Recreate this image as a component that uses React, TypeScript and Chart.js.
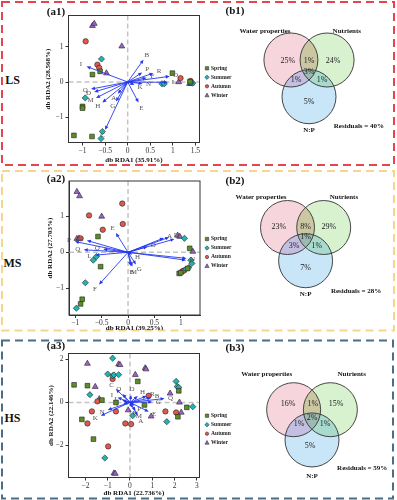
import React, { useEffect, useRef } from 'react';
import { Chart, registerables } from 'chart.js';

Chart.register(...registerables);
Chart.defaults.font.family = "'Liberation Serif', 'Times New Roman', serif";

type P = [number, number];

// ---------------- data ----------------
const seasons = ['Spring', 'Summer', 'Autumn', 'Winter'];

// LS (a1)
const lsSpring: P[] = [[-0.78, 0.21], [-0.61, 0.3], [0.99, 0.25], [-1.0, -0.69], [-1.0, -0.74], [-1.19, -1.51], [-0.79, -1.54], [1.38, 0.01]];
const lsSummer: P[] = [[-0.58, 0.65], [-0.94, -0.45], [0.76, -0.05], [0.81, -0.05], [1.44, -0.03], [-0.56, -1.4], [-0.59, -1.6], [1.4, -0.02]];
const lsAutumn: P[] = [[-0.93, 1.15], [-0.67, 0.49], [-0.63, 0.4], [1.17, 0.11], [1.39, 0.03]];
const lsWinter: P[] = [[-0.78, 1.59], [-0.74, 1.65], [-0.13, 1.01], [-0.47, 0.25], [1.13, 0.0], [1.37, -0.05], [1.41, -0.04]];
const lsArrowNames = ['B', 'P', 'R', 'F', 'O', 'L', 'I', 'Q', 'D', 'M', 'H', 'G', 'A', 'C', 'E', 'K', 'N'];
const lsArrowTips: P[] = [[0.35, 0.63], [0.32, 0.27], [0.57, 0.25], [0.42, 0.12], [0.93, 0.16], [0.89, -0.01], [-0.91, 0.44], [-0.81, -0.2], [-0.74, -0.28], [-0.7, -0.45], [-0.56, -0.58], [-0.26, -0.55], [-0.22, -0.33], [-0.5, -1.35], [0.24, -0.58], [0.15, -0.08], [0.33, -0.05]];
const lsXTicks = [-1, -0.5, 0, 0.5, 1, 1.5];
const lsYTicks = [-1, 0, 1];

// MS (a2)
const msSpring: P[] = [[-0.57, 0.44], [-0.52, -0.4], [-0.87, -1.31], [-0.9, -1.44], [1.17, 0.11], [0.97, -0.59], [1.0, -0.57], [1.13, -0.45]];
const msSummer: P[] = [[-0.66, -0.22], [-0.6, -0.12], [-0.81, -0.85], [-0.98, -1.56], [1.07, 0.39], [1.19, -0.22], [1.21, -0.31], [1.15, -0.43], [1.1, -0.47]];
const msAutumn: P[] = [[-0.11, 1.36], [-0.74, 1.03], [-0.1, 0.79], [-0.48, 0.63], [-0.9, 0.39], [1.03, -0.53], [1.06, -0.51]];
const msWinter: P[] = [[-0.97, 1.69], [-0.92, 1.57], [-0.5, 1.0], [-0.97, 0.38], [-0.93, 0.39], [0.94, 0.47], [0.98, 0.44], [1.23, 0.02]];
const msArrowNames = ['E', 'P', 'R', 'Q', 'O', 'L', 'F', 'B', 'M', 'G', 'H', 'D', 'A', 'I', 'C', 'N', 'K'];
const msArrowTips: P[] = [[-0.23, 0.54], [-1.01, 0.3], [-0.78, 0.33], [-0.84, 0.07], [-0.47, 0.09], [-0.62, -0.08], [-0.55, -0.9], [0.05, -0.38], [0.08, -0.4], [0.15, -0.34], [0.08, -0.06], [0.37, 0.16], [0.68, 0.4], [0.78, 0.42], [0.88, 0.37], [1.11, -0.17], [1.1, -0.22]];
const msXTicks = [-1, -0.5, 0, 0.5, 1];
const msYTicks = [-1, 0, 1];

// HS (a3)
const hsSpring: P[] = [[-2.51, 0.82], [-1.91, 0.78], [0.35, 0.98], [2.19, 0.54], [-1.26, 0.11], [-0.63, 0.0], [0.65, -0.12], [2.55, -0.23], [2.15, -0.67], [-2.16, -0.79], [-1.64, -1.71]];
const hsSummer: P[] = [[-0.78, 2.06], [-1.0, 1.32], [-0.78, 1.24], [-0.72, 1.28], [-0.51, 1.29], [-1.8, 0.36], [2.07, 0.98], [2.12, 0.74], [2.19, 0.7], [2.82, -0.2], [0.12, -0.62], [1.65, -0.9], [-1.13, -2.59]];
const hsAutumn: P[] = [[-0.78, 1.09], [-1.46, 0.05], [-1.71, -0.42], [-1.91, -0.98], [-0.63, -0.42], [-0.21, -0.98], [0.05, -1.01], [0.84, 0.31], [1.59, -0.42], [2.07, -0.47], [-0.98, -2.05]];
const hsWinter: P[] = [[-1.91, 1.81], [-0.51, 1.78], [-0.45, 1.75], [0.24, 1.29], [0.68, 1.6], [0.72, 1.55], [-1.56, 0.73], [-1.38, 0.16], [1.8, 0.42], [2.22, 0.0], [2.3, -0.47], [0.95, -0.65], [-0.08, -0.36], [-0.72, -3.3], [-0.66, -3.32]];
const hsArrowNames = ['C', 'O', 'I', 'D', 'H', 'R', 'B', 'G', 'Q', 'N', 'K', 'E', 'A', 'F', 'M', 'P', 'J', 'L'];
const hsArrowTips: P[] = [[-0.63, 0.62], [-0.33, 0.39], [-0.56, 0.23], [0.05, 0.35], [0.35, 0.3], [0.75, 0.3], [0.95, 0.22], [1.0, 0.02], [1.55, 0.18], [-1.0, -0.35], [-1.31, -0.62], [0.84, -0.43], [0.35, -0.62], [0.1, -0.25], [0.25, -0.4], [0.2, -0.15], [-0.3, -0.05], [-0.35, 0.1]];
const hsXTicks = [-2, -1, 0, 1, 2, 3];
const hsYTicks = [-2, 0, 2];

// Venn partitions: Water, Nutrients, N:P, W∩N, W∩P, N∩P, W∩N∩P (%)
const vennNames = ['Water properties', 'Nutrients', 'N:P'];
const lsVenn = [25, 24, 5, 1, 1, 1, 3];
const msVenn = [23, 29, 7, 8, 3, 1, 1];
const hsVenn = [16, 15, 5, 1, 1, 1, 2];
const residuals = [40, 28, 59];

// ---------------- styles ----------------
const seasonColors = ['#5b8f26', '#22b3b3', '#de5a4c', '#9a63c9'];
const seasonStyles = ['rect', 'rectRot', 'circle', 'triangle'];
const seasonRadii = [3.3, 3.1, 2.7, 3.4];
const ARROW = '#2438ee';
const FONT = "'Liberation Serif', 'Times New Roman', serif";

const fmt = (v: number) => (v < 0 ? '\u2212' + Math.abs(v) : String(v));

function drawMarker(ctx: CanvasRenderingContext2D, style: string, x: number, y: number, r: number) {
  ctx.beginPath();
  if (style === 'rect') ctx.rect(x - r, y - r, 2 * r, 2 * r);
  else if (style === 'rectRot') { ctx.moveTo(x, y - r * 1.3); ctx.lineTo(x + r * 1.3, y); ctx.lineTo(x, y + r * 1.3); ctx.lineTo(x - r * 1.3, y); ctx.closePath(); }
  else if (style === 'circle') ctx.arc(x, y, r, 0, Math.PI * 2);
  else { ctx.moveTo(x, y - r * 1.3); ctx.lineTo(x + r * 1.2, y + r * 0.9); ctx.lineTo(x - r * 1.2, y + r * 0.9); ctx.closePath(); }
  ctx.fill();
  ctx.stroke();
}

type RdaProps = {
  top: number; height: number;
  area: { l: number; r: number; t: number; b: number };
  xRange: [number, number]; yRange: [number, number];
  xTicks: number[]; yTicks: number[];
  xTitle: string; yTitle: string; xTitleY: number; yTitleX: number;
  points: P[][]; arrowNames: string[]; arrowTips: P[];
  legendTop: number;
};

const RDA_LEFT = 30;
const RDA_W = 210;

function RdaChart(props: RdaProps) {
  const ref = useRef<HTMLCanvasElement>(null);
  useEffect(() => {
    const { top, height, area } = props;
    const yAxisW = 26, xAxisH = 22, lh = 7 * 1.2;
    const cl = area.l - RDA_LEFT, cr = area.r - RDA_LEFT, ct = area.t - top, cb = area.b - top;
    const pad = { left: cl - yAxisW, right: RDA_W - cr, top: ct, bottom: height - cb - xAxisH };
    const xTitlePad = cb + xAxisH - (props.xTitleY - top) - lh / 2;
    const yTitlePad = props.yTitleX - RDA_LEFT - (cl - yAxisW) - lh / 2;

    const plugin = {
      id: 'rdaDecor',
      beforeDatasetsDraw(chart: any) {
        const { ctx, chartArea: ca, scales } = chart;
        const x0 = scales.x.getPixelForValue(0), y0 = scales.y.getPixelForValue(0);
        ctx.save();
        ctx.beginPath(); ctx.rect(ca.left, ca.top, ca.right - ca.left, ca.bottom - ca.top); ctx.clip();
        ctx.strokeStyle = '#c4c4c4'; ctx.lineWidth = 1.5; ctx.setLineDash([5, 3]);
        ctx.beginPath(); ctx.moveTo(x0, ca.top); ctx.lineTo(x0, ca.bottom); ctx.stroke();
        ctx.beginPath(); ctx.moveTo(ca.left, y0); ctx.lineTo(ca.right, y0); ctx.stroke();
        ctx.restore();
      },
      afterDatasetsDraw(chart: any) {
        const { ctx, chartArea: ca, scales } = chart;
        const x0 = scales.x.getPixelForValue(0), y0 = scales.y.getPixelForValue(0);
        ctx.save();
        props.arrowTips.forEach(([vx, vy], i) => {
          const px = scales.x.getPixelForValue(vx), py = scales.y.getPixelForValue(vy);
          const dx = px - x0, dy = py - y0, len = Math.hypot(dx, dy) || 1;
          const ux = dx / len, uy = dy / len;
          const hl = 4, hw = 1.8;
          ctx.strokeStyle = ARROW; ctx.fillStyle = ARROW; ctx.lineWidth = 0.9;
          ctx.beginPath(); ctx.moveTo(x0, y0); ctx.lineTo(px - ux * hl * 0.8, py - uy * hl * 0.8); ctx.stroke();
          ctx.beginPath();
          ctx.moveTo(px, py);
          ctx.lineTo(px - ux * hl - uy * hw, py - uy * hl + ux * hw);
          ctx.lineTo(px - ux * hl + uy * hw, py - uy * hl - ux * hw);
          ctx.closePath(); ctx.fill();
          ctx.fillStyle = '#555';
          ctx.font = `7px ${FONT}`;
          ctx.textAlign = 'center'; ctx.textBaseline = 'middle';
          ctx.fillText(props.arrowNames[i], px + ux * 6, py + uy * 6);
        });
        ctx.strokeStyle = '#333'; ctx.lineWidth = 1; ctx.setLineDash([]);
        ctx.strokeRect(ca.left, ca.top, ca.right - ca.left, ca.bottom - ca.top);
        // legend
        seasons.forEach((s, i) => {
          const ly = props.legendTop - top + i * 9;
          ctx.fillStyle = seasonColors[i]; ctx.strokeStyle = '#222'; ctx.lineWidth = 0.5;
          drawMarker(ctx, seasonStyles[i], 207 - RDA_LEFT, ly, 1.7);
          ctx.fillStyle = '#222';
          ctx.font = `bold 5.6px ${FONT}`;
          ctx.textAlign = 'left'; ctx.textBaseline = 'middle';
          ctx.fillText(s, 211 - RDA_LEFT, ly);
        });
        ctx.restore();
      },
    };

    const axisCommon = {
      type: 'linear' as const,
      grid: { drawOnChartArea: false, drawTicks: true, tickLength: 3, color: '#333', lineWidth: 1 },
      border: { display: true, color: '#333', width: 1 },
    };

    const chart = new Chart(ref.current!, {
      type: 'scatter',
      data: {
        datasets: seasons.map((s, i) => ({
          label: s,
          data: props.points[i].map(([x, y]) => ({ x, y })),
          pointStyle: seasonStyles[i] as any,
          pointRadius: seasonRadii[i],
          backgroundColor: seasonColors[i],
          borderColor: '#222',
          borderWidth: 0.6,
        })),
      },
      options: {
        animation: false,
        responsive: false,
        maintainAspectRatio: false,
        events: [],
        layout: { padding: pad },
        plugins: { legend: { display: false }, tooltip: { enabled: false } },
        scales: {
          x: {
            ...axisCommon,
            min: props.xRange[0], max: props.xRange[1],
            afterBuildTicks: (ax: any) => { ax.ticks = props.xTicks.map((v) => ({ value: v })); },
            afterFit: (s: any) => { s.height = xAxisH; },
            ticks: { font: { size: 7.5 }, color: '#333', padding: 1, maxRotation: 0, autoSkip: false, callback: (v: any) => fmt(Number(v)) },
            title: { display: true, text: props.xTitle, color: '#111', font: { size: 7, weight: 'bold' }, padding: { top: 0, bottom: xTitlePad } },
          },
          y: {
            ...axisCommon,
            min: props.yRange[0], max: props.yRange[1],
            afterBuildTicks: (ax: any) => { ax.ticks = props.yTicks.map((v) => ({ value: v })); },
            afterFit: (s: any) => { s.width = yAxisW; },
            ticks: { font: { size: 7.5 }, color: '#333', padding: 2, autoSkip: false, callback: (v: any) => fmt(Number(v)) },
            title: { display: true, text: props.yTitle, color: '#111', font: { size: 7, weight: 'bold' }, padding: { top: yTitlePad, bottom: 0 } },
          },
        },
      } as any,
      plugins: [plugin],
    });
    return () => chart.destroy();
  }, []);
  return (
    <canvas
      ref={ref}
      width={RDA_W}
      height={props.height}
      style={{ position: 'absolute', left: RDA_LEFT, top: props.top, width: RDA_W, height: props.height }}
    />
  );
}

type VennProps = {
  top: number; height: number; ox: number; oy: number; r: number;
  values: number[]; residual: number;
  circles: P[]; regionPos: P[]; namePos: P[]; residPos: P;
};

const VENN_LEFT = 215;
const VENN_W = 180;
const vennFills = ['#f7d5dd', '#d8f1cf', '#c9e5f8'];
const vennPairFills = ['#cbc7a2', '#c4bfe0', '#a8dbce']; // W∩N, W∩P, N∩P
const vennTripleFill = '#9dbab2';

function VennChart(props: VennProps) {
  const ref = useRef<HTMLCanvasElement>(null);
  useEffect(() => {
    const { r, height } = props;
    const ox = props.ox - VENN_LEFT;
    const oy = props.oy - props.top;
    const plugin = {
      id: 'vennDraw',
      afterDraw(chart: any) {
        const { ctx, scales } = chart;
        const sx = scales.x, sy = scales.y;
        const rad = sx.getPixelForValue(1) - sx.getPixelForValue(0);
        const path = (c: P) => { ctx.beginPath(); ctx.arc(sx.getPixelForValue(c[0]), sy.getPixelForValue(c[1]), rad, 0, Math.PI * 2); };
        const [W, N, Pc] = props.circles;
        ctx.save();
        props.circles.forEach((c, i) => { path(c); ctx.fillStyle = vennFills[i]; ctx.fill(); });
        const pairs: [P, P][] = [[W, N], [W, Pc], [N, Pc]];
        pairs.forEach(([a, b], i) => {
          ctx.save(); path(a); ctx.clip(); path(b); ctx.fillStyle = vennPairFills[i]; ctx.fill(); ctx.restore();
        });
        ctx.save(); path(W); ctx.clip(); path(N); ctx.clip(); path(Pc); ctx.fillStyle = vennTripleFill; ctx.fill(); ctx.restore();
        ctx.strokeStyle = '#333'; ctx.lineWidth = 0.9;
        props.circles.forEach((c) => { path(c); ctx.stroke(); });
        ctx.textAlign = 'center'; ctx.textBaseline = 'middle';
        ctx.fillStyle = '#222';
        ctx.font = `8px ${FONT}`;
        props.values.forEach((v, i) => {
          const [x, y] = props.regionPos[i];
          ctx.fillText(v + '%', sx.getPixelForValue(x), sy.getPixelForValue(y));
        });
        ctx.fillStyle = '#111';
        ctx.font = `bold 7px ${FONT}`;
        vennNames.forEach((n, i) => {
          const [x, y] = props.namePos[i];
          ctx.fillText(n, sx.getPixelForValue(x), sy.getPixelForValue(y));
        });
        ctx.fillText('Residuals = ' + props.residual + '%', sx.getPixelForValue(props.residPos[0]), sy.getPixelForValue(props.residPos[1]));
        ctx.restore();
      },
    };
    const chart = new Chart(ref.current!, {
      type: 'scatter',
      data: { datasets: [] },
      options: {
        animation: false,
        responsive: false,
        maintainAspectRatio: false,
        events: [],
        layout: { padding: 0 },
        plugins: { legend: { display: false }, tooltip: { enabled: false } },
        scales: {
          x: { type: 'linear', display: false, min: -ox / r, max: (VENN_W - ox) / r },
          y: { type: 'linear', display: false, min: -(height - oy) / r, max: oy / r },
        },
      } as any,
      plugins: [plugin],
    });
    return () => chart.destroy();
  }, []);
  return (
    <canvas
      ref={ref}
      width={VENN_W}
      height={props.height}
      style={{ position: 'absolute', left: VENN_LEFT, top: props.top, width: VENN_W, height: props.height }}
    />
  );
}

function Label({ x, y, text, size }: { x: number; y: number; text: string; size: number }) {
  return (
    <div
      style={{
        position: 'absolute', left: x, top: y, transform: 'translate(-50%, -50%)',
        fontFamily: FONT, fontWeight: 'bold', fontSize: size, lineHeight: 1, whiteSpace: 'nowrap', color: '#111',
      }}
    >
      {text}
    </div>
  );
}

export default function App() {
  return (
    <div style={{ position: 'absolute', left: 0, top: 0, width: 397, height: 500, background: '#fff', overflow: 'hidden' }}>
      <svg width={397} height={500} style={{ position: 'absolute', left: 0, top: 0 }}>
        <rect x={2} y={2} width={392} height={163} fill="none" stroke="#e4464e" strokeWidth={2} strokeDasharray="8 5" />
        <rect x={2} y={171} width={392} height={159.5} fill="none" stroke="#f5d68c" strokeWidth={2} strokeDasharray="8 5" />
        <rect x={2} y={340.5} width={391} height={158} fill="none" stroke="#4b6e88" strokeWidth={2} strokeDasharray="8 5" />
      </svg>

      <RdaChart
        top={0} height={165}
        area={{ l: 68.5, r: 199.5, t: 15.5, b: 142.5 }}
        xRange={[-1.31, 1.59]} yRange={[-1.71, 1.88]}
        xTicks={lsXTicks} yTicks={lsYTicks}
        xTitle="db RDA1 (35.91%)" yTitle="db RDA2 (28.568%)" xTitleY={160} yTitleX={48}
        points={[lsSpring, lsSummer, lsAutumn, lsWinter]}
        arrowNames={lsArrowNames} arrowTips={lsArrowTips}
        legendTop={68.3}
      />
      <RdaChart
        top={165} height={165}
        area={{ l: 69, r: 200, t: 181, b: 315 }}
        xRange={[-1.12, 1.365]} yRange={[-1.75, 1.99]}
        xTicks={msXTicks} yTicks={msYTicks}
        xTitle="db RDA1 (39.25%)" yTitle="db RDA2 (27.703%)" xTitleY={328} yTitleX={50}
        points={[msSpring, msSummer, msAutumn, msWinter]}
        arrowNames={msArrowNames} arrowTips={msArrowTips}
        legendTop={239}
      />
      <RdaChart
        top={330} height={170}
        area={{ l: 68.5, r: 199.5, t: 353.5, b: 477.5 }}
        xRange={[-2.76, 3.12]} yRange={[-3.5, 2.28]}
        xTicks={hsXTicks} yTicks={hsYTicks}
        xTitle="db RDA1 (22.736%)" yTitle="db RDA2 (22.146%)" xTitleY={493.5} yTitleX={51.5}
        points={[hsSpring, hsSummer, hsAutumn, hsWinter]}
        arrowNames={hsArrowNames} arrowTips={hsArrowTips}
        legendTop={415.7}
      />

      <VennChart
        top={0} height={165} ox={309} oy={60} r={27}
        values={lsVenn} residual={residuals[0]}
        circles={[[-0.67, 0], [0.67, 0], [0, -1.36]]}
        regionPos={[[-0.78, -0.04], [0.89, -0.04], [0, -1.56], [0, -0.04], [-0.48, -0.74], [0.48, -0.74], [0, -0.44]]}
        namePos={[[-1.63, 1.05], [1.4, 1.05], [0, -2.59]]}
        residPos={[1.85, -2.44]}
      />
      <VennChart
        top={165} height={165} ox={305.6} oy={227.5} r={27}
        values={msVenn} residual={residuals[1]}
        circles={[[-0.67, 0], [0.67, 0], [0, -1.23]]}
        regionPos={[[-0.99, 0.03], [0.86, 0.03], [0, -1.49], [0, 0.03], [-0.43, -0.69], [0.42, -0.69], [0, -0.34]]}
        namePos={[[-1.65, 1.13], [1.42, 1.13], [0, -2.46]]}
        residPos={[1.87, -2.37]}
      />
      <VennChart
        top={330} height={170} ox={312} oy={409.7} r={27}
        values={hsVenn} residual={residuals[2]}
        circles={[[-0.68, 0], [0.68, 0], [0, -1.12]]}
        regionPos={[[-0.89, 0.21], [0.89, 0.21], [-0.07, -1.34], [0.03, 0.21], [-0.48, -0.54], [0.48, -0.54], [0, -0.32]]}
        namePos={[[-1.68, 1.31], [1.47, 1.31], [0, -2.46]]}
        residPos={[1.86, -2.17]}
      />

      <Label x={12.5} y={80} text="LS" size={12} />
      <Label x={12.5} y={263} text="MS" size={12} />
      <Label x={12.5} y={418} text="HS" size={12} />
      <Label x={56} y={10.5} text="(a1)" size={11} />
      <Label x={56} y={178} text="(a2)" size={11} />
      <Label x={56} y={345} text="(a3)" size={11} />
      <Label x={235} y={10} text="(b1)" size={11} />
      <Label x={235} y={180} text="(b2)" size={11} />
      <Label x={235} y={347} text="(b3)" size={11} />
    </div>
  );
}
